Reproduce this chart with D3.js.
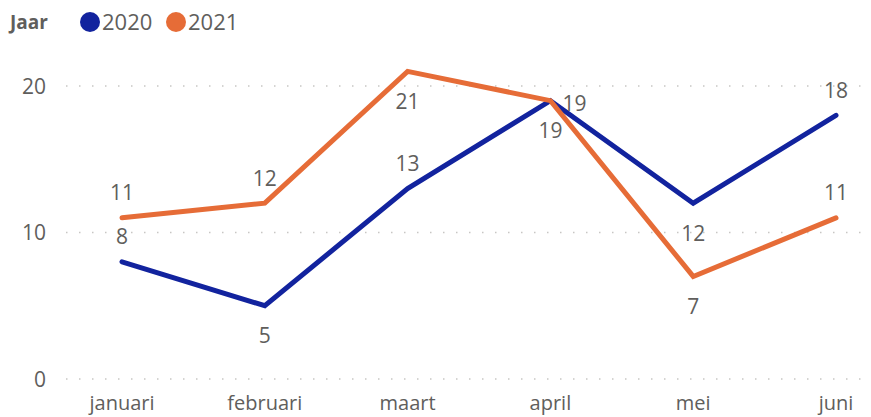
<!DOCTYPE html>
<html>
<head>
<meta charset="utf-8" />
<script src="https://d3js.org/d3.v7.min.js"></script>
<style>
  body { margin: 0; background: #fff; }
  text { font-family: "Open Sans", sans-serif; fill: #605E5C; }
</style>
</head>
<body>
<svg id="chart"></svg>
<script>
var months = ["januari", "februari", "maart", "april", "mei", "juni"];
var values2020 = [8, 5, 13, 19, 12, 18];
var values2021 = [11, 12, 21, 19, 7, 11];
var yTicks = [0, 10, 20];
var years = ["2020", "2021"];
var colors = ["#12239E", "#E66C37"];
// where each data label sits relative to its point
var place2020 = ["above", "below", "above", "right", "below", "above"];
var place2021 = ["above", "above", "below", "below", "below", "above"];

var width = 871, height = 417;
var svg = d3.select("#chart").attr("width", width).attr("height", height);

var x = d3.scalePoint().domain(months).range([122, 836]);
var y = d3.scaleLinear().domain([0, 20]).range([379, 86]);

// gridlines
svg.append("g").selectAll("line").data(yTicks).enter().append("line")
  .attr("x1", 66).attr("x2", 862)
  .attr("y1", function(d) { return y(d); })
  .attr("y2", function(d) { return y(d); })
  .attr("stroke", "#C8C6C4")
  .attr("stroke-width", 1.5)
  .attr("stroke-dasharray", "1.5,11.5");

// y axis labels
svg.append("g").selectAll("text").data(yTicks).enter().append("text")
  .attr("x", 46)
  .attr("y", function(d) { return y(d); })
  .attr("dy", "0.36em")
  .attr("text-anchor", "end")
  .style("font-size", "21px")
  .text(function(d) { return d; });

// x axis labels
svg.append("g").selectAll("text").data(months).enter().append("text")
  .attr("x", function(d) { return x(d); })
  .attr("y", 410)
  .attr("text-anchor", "middle")
  .style("font-size", "20px")
  .text(function(d) { return d; });

var line = d3.line()
  .x(function(d, i) { return x(months[i]); })
  .y(function(d) { return y(d); });

var series = [values2020, values2021];
var places = [place2020, place2021];

// draw 2020 first, 2021 on top
series.forEach(function(vals, s) {
  svg.append("path")
    .datum(vals)
    .attr("d", line)
    .attr("fill", "none")
    .attr("stroke", colors[s])
    .attr("stroke-width", 5)
    .attr("stroke-linejoin", "miter")
    .attr("stroke-linecap", "round");
});

series.forEach(function(vals, s) {
  svg.append("g").selectAll("text").data(vals).enter().append("text")
    .attr("x", function(d, i) {
      var p = places[s][i];
      return x(months[i]) + (p === "right" ? 12 : 0);
    })
    .attr("y", function(d, i) {
      var p = places[s][i];
      if (p === "above") return y(d) - 25;
      if (p === "below") return y(d) + 30;
      return y(d) + 3;
    })
    .attr("dy", "0.36em")
    .attr("text-anchor", function(d, i) { return places[s][i] === "right" ? "start" : "middle"; })
    .style("font-size", "21px")
    .text(function(d) { return d; });
});

// legend
var legend = svg.append("g");
legend.append("text")
  .attr("x", 10).attr("y", 22).attr("dy", "0.36em")
  .style("font-size", "19px").style("font-weight", "bold")
  .text("Jaar");
var lx = [90, 176];
years.forEach(function(yr, i) {
  legend.append("circle")
    .attr("cx", lx[i]).attr("cy", 22).attr("r", 10)
    .attr("fill", colors[i]);
  legend.append("text")
    .attr("x", lx[i] + 12).attr("y", 22).attr("dy", "0.36em")
    .style("font-size", "22px")
    .text(yr);
});
</script>
</body>
</html>
